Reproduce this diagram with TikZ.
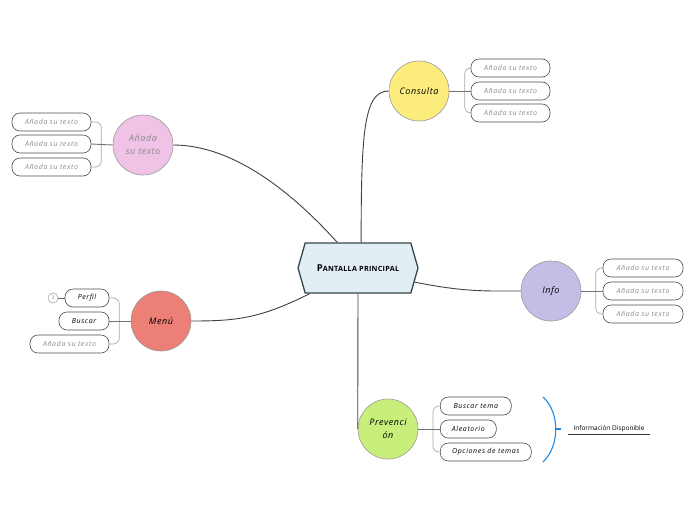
\documentclass[tikz,border=0pt]{standalone}
\usepackage{fontspec}
\setmainfont{Open Sans}
\usetikzlibrary{shapes.symbols,calc}
\definecolor{mainfill}{HTML}{E1EEF4}
\definecolor{mainline}{HTML}{36474F}
\definecolor{cpink}{HTML}{F0C2E6}
\definecolor{cyellow}{HTML}{FCEC7C}
\definecolor{clav}{HTML}{C5BDE6}
\definecolor{cred}{HTML}{EC8076}
\definecolor{cgreen}{HTML}{C8EF7C}
\definecolor{txtgray}{HTML}{8A8A8A}
\definecolor{brkgray}{HTML}{A8A8A8}
\definecolor{blueb}{HTML}{1E88E5}
\tikzset{
  topic/.style={circle, draw=gray!80, line width=0.6pt, minimum size=60pt, inner sep=0pt, align=center, font=\fontsize{9}{13}\selectfont\itshape\addfontfeatures{LetterSpace=6}},
  leaf/.style={draw=black!70, line width=0.6pt, rounded corners=8pt, minimum height=18pt, inner sep=0pt, font=\fontsize{7}{8}\selectfont\itshape\addfontfeatures{LetterSpace=9}},
  conn/.style={draw=black!75, line width=0.9pt},
  brk/.style={draw=brkgray, line width=0.7pt, rounded corners=6pt},
  stub/.style={draw=black!55, line width=0.9pt}
}
\begin{document}
\begin{tikzpicture}[x=1pt,y=-1pt]
\useasboundingbox (0,0) rectangle (696,520);
% central
\node[signal, signal to=west and east, signal pointer angle=148, draw=mainline, line width=1.3pt, fill=mainfill, minimum width=120pt, minimum height=50pt, inner sep=0pt, font=\bfseries\addfontfeatures{LetterSpace=4}] (main) at (358,268) {{\fontsize{9.5}{10}\selectfont P}{\fontsize{7.2}{10}\selectfont ANTALLA PRINCIPAL}};
% topics
\node[topic, fill=cyellow] (cons) at (419,91) {Consulta};
\node[topic, fill=cpink, text=txtgray] (pink) at (143,145) {Añada\\su texto};
\node[topic, fill=clav] (info) at (551,291) {Info};
\node[topic, fill=cred] (menu) at (161,321) {Menú};
\node[topic, fill=cgreen] (prev) at (388,429) {Prevenci\\ón};
% main connectors
\draw[conn] (main.83) .. controls +(0,-110) and +(-25,0) .. (cons.west);
\draw[conn] (main.129) .. controls +(-45,-50) and +(60,0) .. (pink.east);
\draw[conn] (main.-14) .. controls +(50,10) and +(-35,0) .. (info.west);
\draw[conn] (main.-152) .. controls +(-50,25) and +(45,0) .. (menu.east);
\draw[conn] (main.south) -- (prev.west);
% Consulta leaves
\node[leaf, text=txtgray, minimum width=79pt] (c1) at (510.5,68) {Añada su texto};
\node[leaf, text=txtgray, minimum width=79pt] (c2) at (510.5,91) {Añada su texto};
\node[leaf, text=txtgray, minimum width=79pt] (c3) at (510.5,113) {Añada su texto};
\draw[brk] (c1.west) -| ($(c2.west)+(-6,0)$) |- (c3.west);
\draw[stub] (cons.east) -- (c2.west);
% pink leaves
\node[leaf, text=txtgray, minimum width=79pt] (p1) at (51.5,122) {Añada su texto};
\node[leaf, text=txtgray, minimum width=79pt] (p2) at (51.5,144) {Añada su texto};
\node[leaf, text=txtgray, minimum width=79pt] (p3) at (51.5,167) {Añada su texto};
\draw[brk] (p1.east) -| ($(p2.east)+(10,0)$) |- (p3.east);
\draw[stub] (pink.west) -- (p2.east);
% Info leaves
\node[leaf, text=txtgray, minimum width=80pt] (i1) at (643,268) {Añada su texto};
\node[leaf, text=txtgray, minimum width=80pt] (i2) at (643,291) {Añada su texto};
\node[leaf, text=txtgray, minimum width=80pt] (i3) at (643,314) {Añada su texto};
\draw[brk] (i1.west) -| ($(i2.west)+(-7,0)$) |- (i3.west);
\draw[stub] (info.east) -- (i2.west);
% Menu leaves
\node[leaf, minimum width=44pt] (m1) at (87,298) {Perfil};
\node[leaf, minimum width=50pt] (m2) at (84,321) {Buscar};
\node[leaf, text=txtgray, minimum width=79pt] (m3) at (69.5,344) {Añada su texto};
\draw[brk] (m1.east) -| ($(m2.east)+(10,0)$) |- (m3.east);
\draw[stub] (menu.west) -- (m2.east);
\node[circle, draw=brkgray, line width=0.6pt, minimum size=10pt, inner sep=0pt, text=txtgray, font=\fontsize{5}{6}\selectfont] (cnt) at (53,298) {3};
\draw[draw=black!60, line width=0.7pt] (cnt.east) -- (m1.west);
% Prevencion leaves
\node[leaf, anchor=west, minimum width=71pt] (v1) at (440,406) {Buscar tema};
\node[leaf, anchor=west, minimum width=56pt] (v2) at (440,429) {Aleatorio};
\node[leaf, anchor=west, minimum width=91pt] (v3) at (440,452) {Opciones de temas};
\draw[brk] (v1.west) -| ($(v2.west)+(-7,0)$) |- (v3.west);
\draw[stub] (prev.east) -- (v2.west);
% blue bracket and label
\coordinate (bt) at (543,397);
\coordinate (bb) at (543,462);
\coordinate (bm) at (556,429);
\draw[blueb, line width=1.1pt] (bt) .. controls (560,412) and (560,446) .. (bb);
\node[font=\fontsize{6.5}{8}\selectfont, inner sep=1pt] (info2) at (609,428.5) {Información Disponible};
\draw[blueb, line width=1.1pt] (bm) -- ++(5,0);
\draw[draw=black!80, line width=1pt] ($(info2.south west)+(-4,2)$) -- ($(info2.south east)+(4,2)$);
\end{tikzpicture}
\end{document}
